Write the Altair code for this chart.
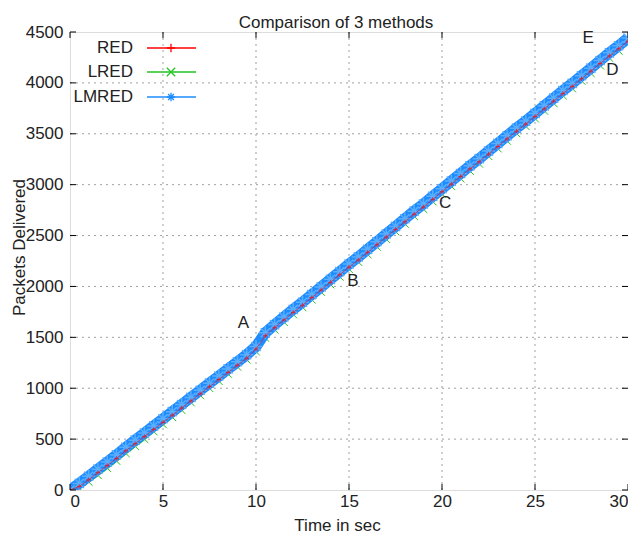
import altair as alt
import pandas as pd

# ---- data ----
time_s = [0, 0.5, 1, 1.5, 2, 2.5, 3, 3.5, 4, 4.5, 5, 5.5, 6, 6.5, 7, 7.5, 8, 8.5, 9, 9.5, 10,
          10.5, 11, 11.5, 12, 12.5, 13, 13.5, 14, 14.5, 15, 15.5, 16, 16.5, 17, 17.5, 18, 18.5, 19, 19.5, 20,
          20.5, 21, 21.5, 22, 22.5, 23, 23.5, 24, 24.5, 25, 25.5, 26, 26.5, 27, 27.5, 28, 28.5, 29, 29.5, 30]

red = [0, 35, 100, 170, 240, 310, 385, 455, 525, 595, 665, 735, 805, 875, 945, 1015, 1085, 1155, 1225, 1295, 1385,
       1515, 1595, 1670, 1745, 1815, 1890, 1965, 2040, 2115, 2190,
       2260, 2335, 2410, 2485, 2560, 2635, 2710, 2780, 2855, 2930,
       3005, 3080, 3155, 3225, 3300, 3375, 3450, 3525, 3595, 3670,
       3745, 3820, 3895, 3965, 4040, 4115, 4190, 4265, 4335, 4410]

lred = [0, 20, 80, 145, 215, 285, 360, 430, 500, 575, 645, 715, 785, 860, 930, 1000, 1070, 1140, 1210, 1280, 1360,
        1495, 1575, 1650, 1725, 1795, 1870, 1945, 2020, 2095, 2170,
        2240, 2315, 2390, 2465, 2540, 2615, 2690, 2760, 2835, 2910,
        2985, 3060, 3135, 3205, 3280, 3355, 3430, 3505, 3575, 3650,
        3725, 3800, 3875, 3945, 4020, 4095, 4170, 4245, 4315, 4390]

lmred = [0, 65, 135, 205, 275, 345, 420, 490, 560, 630, 700, 770, 840, 910, 980, 1050, 1120, 1190, 1260, 1330, 1410,
         1545, 1625, 1700, 1775, 1845, 1920, 1995, 2070, 2145, 2220,
         2290, 2365, 2440, 2515, 2590, 2665, 2740, 2810, 2885, 2960,
         3035, 3110, 3185, 3255, 3330, 3405, 3480, 3555, 3625, 3700,
         3775, 3850, 3925, 3995, 4070, 4145, 4220, 4295, 4365, 4440]

series_names = ["RED", "LRED", "LMRED"]
series_colors = ["#ff0000", "#22c322", "#1e8cff"]

x_ticks = [0, 5, 10, 15, 20, 25, 30]
y_ticks = [0, 500, 1000, 1500, 2000, 2500, 3000, 3500, 4000, 4500]
x_grid = [5, 10, 15, 20, 25]
y_grid = [500, 1000, 1500, 2000, 2500, 3000, 3500, 4000]

note_text = ["A", "B", "C", "D", "E"]
note_t = [9.33, 15.21, 20.17, 29.16, 27.86]
note_v = [1640, 2057, 2817, 4127, 4438]

title_text = "Comparison of 3 methods"

# ---- layout ----
W, H = 558, 458
FONT = "Liberation Sans"
FS = 17
TXT = "#222222"

xs = alt.Scale(domain=[0, 30], nice=False, zero=False)
ys = alt.Scale(domain=[0, 4500], nice=False)

X_AX = alt.Axis(values=x_ticks, grid=False, ticks=False, domain=False,
                labelFont=FONT, labelFontSize=FS, labelColor=TXT, labelPadding=3,
                title="Time in sec", titleFont=FONT, titleFontSize=FS, titleFontWeight="normal",
                titleColor=TXT, titleX=267, titleY=40, titleAlign="center", titleBaseline="alphabetic")
Y_AX = alt.Axis(values=y_ticks, grid=False, ticks=False, domain=False, format="d",
                labelFont=FONT, labelFontSize=FS, labelColor=TXT, labelPadding=7,
                title="Packets Delivered", titleFont=FONT, titleFontSize=FS, titleFontWeight="normal",
                titleColor=TXT, titleX=-46, titleY=215, titleAlign="center", titleBaseline="alphabetic")

def X(field):
    return alt.X(f"{field}:Q", scale=xs, axis=X_AX)

def Y(field):
    return alt.Y(f"{field}:Q", scale=ys, axis=Y_AX)

# grid lines
xgrid_df = pd.DataFrame({"gx": x_grid})
ygrid_df = pd.DataFrame({"gy": y_grid})
grid_x = alt.Chart(xgrid_df).mark_rule(color="#a0a0a0", strokeDash=[2, 4], strokeWidth=1).encode(
    x=X("gx"), y=alt.value(0), y2=alt.value(H))
grid_y = alt.Chart(ygrid_df).mark_rule(color="#a0a0a0", strokeDash=[2, 4], strokeWidth=1).encode(
    y=Y("gy"), x=alt.value(0), x2=alt.value(W))

# inward ticks (all four sides)
xt_df = pd.DataFrame({"tx": x_ticks})
yt_df = pd.DataFrame({"ty": y_ticks})
TL = 6
tick_layers = [
    alt.Chart(xt_df).mark_rule(color="#000", strokeWidth=1).encode(x=X("tx"), y=alt.value(H), y2=alt.value(H - TL)),
    alt.Chart(xt_df).mark_rule(color="#000", strokeWidth=1).encode(x=X("tx"), y=alt.value(0), y2=alt.value(TL)),
    alt.Chart(yt_df).mark_rule(color="#000", strokeWidth=1).encode(y=Y("ty"), x=alt.value(0), x2=alt.value(TL)),
    alt.Chart(yt_df).mark_rule(color="#000", strokeWidth=1).encode(y=Y("ty"), x=alt.value(W - TL), x2=alt.value(W)),
]

# series
PLUS = "M-1,0L1,0M0,-1L0,1"
CROSS = "M-1,-1L1,1M-1,1L1,-1"
STAR = "M-1,0L1,0M0,-1L0,1M-0.7,-0.7L0.7,0.7M-0.7,0.7L0.7,-0.7"

df_red = pd.DataFrame({"t": time_s, "v": red})
df_lred = pd.DataFrame({"t": time_s, "v": lred})
df_lmred = pd.DataFrame({"t": time_s, "v": lmred})

def series(df, color, width, shape, msize, mcolor, mwidth, opac=1.0):
    ln = alt.Chart(df).mark_line(color=color, strokeWidth=width, clip=True, opacity=opac).encode(
        x=X("t"), y=Y("v"))
    pt = alt.Chart(df).mark_point(shape=shape, size=msize, filled=False, color=mcolor,
                                  strokeWidth=mwidth, opacity=opac, clip=True).encode(x=X("t"), y=Y("v"))
    return [ln, pt]

s_lred = series(df_lred, series_colors[1], 2, CROSS, 60, series_colors[1], 1.0)
s_lmred = series(df_lmred, series_colors[2], 11, STAR, 170, "#5aaeff", 1.5)
s_red = series(df_red, series_colors[0], 0.8, PLUS, 20, series_colors[0], 1.0, 0.7)

# annotations
note_df = pd.DataFrame({"t": note_t, "v": note_v, "txt": note_text})
notes = alt.Chart(note_df).mark_text(font=FONT, fontSize=FS, color=TXT, align="center",
                                     baseline="middle").encode(x=X("t"), y=Y("v"), text="txt:N")

# chart title as text above the frame
title_df = pd.DataFrame({"txt": [title_text]})
title_mark = alt.Chart(title_df).mark_text(font=FONT, fontSize=FS, color=TXT, align="center",
                                           baseline="alphabetic").encode(
    x=alt.value(266), y=alt.value(-4), text="txt:N")

# legend (manual, inside top-left)
legend_layers = []
legend_shapes = [PLUS, CROSS, STAR]
row_y = [16, 40, 65]
for i, name in enumerate(series_names):
    ldf = pd.DataFrame({"name": [name]})
    legend_layers.append(alt.Chart(ldf).mark_text(font=FONT, fontSize=FS, color=TXT, align="right",
                                                  baseline="middle").encode(
        x=alt.value(63), y=alt.value(row_y[i]), text="name:N"))
    legend_layers.append(alt.Chart(ldf).mark_rule(color=series_colors[i], strokeWidth=1.5).encode(
        x=alt.value(77), x2=alt.value(126), y=alt.value(row_y[i])))
    legend_layers.append(alt.Chart(ldf).mark_point(shape=legend_shapes[i], size=70, filled=False,
                                                   color=series_colors[i], strokeWidth=1.3, opacity=1).encode(
        x=alt.value(101), y=alt.value(row_y[i])))

chart = alt.layer(
    grid_x, grid_y, *s_lred, *s_lmred, *s_red, *tick_layers, notes, title_mark, *legend_layers
).properties(
    width=W, height=H,
    autosize=alt.AutoSizeParams(type="none"),
    padding={"left": 62, "top": 24, "right": 0, "bottom": 44},
).configure_view(stroke="#111111", strokeWidth=1).configure(background="white")

chart.save("out.html", embed_options={"renderer": "svg", "actions": False})
